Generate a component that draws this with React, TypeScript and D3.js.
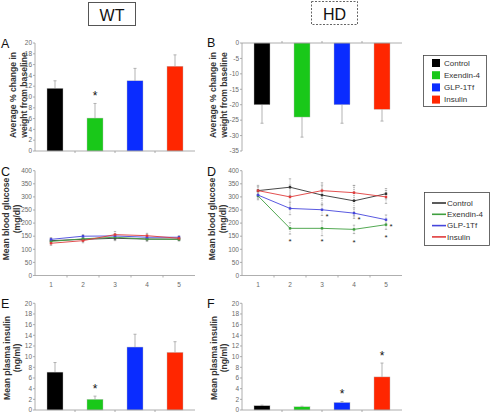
import React from "react";
import * as d3 from "d3";

const FONT = "'Liberation Sans', Arial, sans-serif";

// ---------- data ----------
const groups = ["Control", "Exendin-4", "GLP-1Tf", "Insulin"];
const barColors = ["#000000", "#19c819", "#0a2cff", "#ff2600"];
const lineColors = ["#333333", "#3f9f3f", "#4646dc", "#e03c3c"];

const wtWeightMean = [11.6, 6.1, 13.0, 15.7];
const wtWeightErr = [1.4, 2.7, 2.3, 2.1];
const wtWeightSig = [false, true, false, false];

const hdWeightMean = [-20, -24, -20, -21.5];
const hdWeightErr = [6, 6.5, 6, 3.8];

const wtInsulinMean = [7.1, 2.0, 11.8, 10.8];
const wtInsulinErr = [1.8, 0.6, 2.4, 2.0];
const wtInsulinSig = [false, true, false, false];

const hdInsulinMean = [0.8, 0.6, 1.4, 6.2];
const hdInsulinErr = [0.1, 0.1, 0.2, 2.6];
const hdInsulinSig = [false, false, true, true];

const timepoints = ["1", "2", "3", "4", "5"];

const wtGlucose = [
  [133, 138, 142, 139, 139],
  [130, 140, 146, 139, 138],
  [138, 150, 151, 146, 146],
  [123, 133, 156, 152, 142],
];
const wtGlucoseErr = [
  [8, 8, 9, 8, 6],
  [8, 7, 10, 7, 6],
  [7, 6, 8, 8, 6],
  [8, 8, 12, 9, 6],
];

const hdGlucose = [
  [324, 337, 307, 285, 312],
  [304, 180, 180, 176, 194],
  [307, 256, 251, 238, 213],
  [324, 300, 324, 316, 300],
];
const hdGlucoseErr = [
  [20, 32, 38, 58, 20],
  [15, 22, 28, 16, 18],
  [12, 24, 22, 20, 18],
  [15, 45, 30, 28, 25],
];
const hdExendinSig = [false, true, true, true, true];
const hdGlpSig = [false, false, true, true, true];

const weightTicksWT = d3.range(0, 21, 2);
const weightTicksHD = d3.range(-35, 1, 5);
const glucoseTicks = d3.range(0, 401, 50);
const insulinTicks = d3.range(0, 21, 2);

// ---------- helpers ----------
const AX = "#9a9a9a";
const TICKTXT = "#6a6a6a";

function YAxis({ x, y, ticks }: { x: number; y: any; ticks: number[] }) {
  const [r0, r1] = y.range();
  return (
    <g>
      <line x1={x} x2={x} y1={r0} y2={r1} stroke={AX} strokeWidth={0.8} />
      {ticks.map((t) => (
        <g key={t}>
          <line x1={x - 2} x2={x} y1={y(t)} y2={y(t)} stroke={AX} strokeWidth={0.8} />
          <text x={x - 3} y={y(t)} dy="0.35em" textAnchor="end" fontSize={6.5} fill={TICKTXT} fontFamily={FONT}>
            {t}
          </text>
        </g>
      ))}
    </g>
  );
}

function YLabel({ lines, x, cy, gap = 10.5 }: { lines: string[]; x: number; cy: number; gap?: number }) {
  return (
    <g>
      {lines.map((l, i) => (
        <text
          key={i}
          transform={`translate(${x + i * gap},${cy}) rotate(-90)`}
          textAnchor="middle"
          fontSize={8.6}
          fontWeight="bold"
          fill="#333"
          fontFamily={FONT}
        >
          {l}
        </text>
      ))}
    </g>
  );
}

function Letter({ t, x, y }: { t: string; x: number; y: number }) {
  return (
    <text x={x} y={y} fontSize={12.5} fill="#111" fontFamily={FONT}>
      {t}
    </text>
  );
}

function BarPanel({
  x0, x1, yTop, yBottom, domain, ticks, means, errs, sig, negative,
}: {
  x0: number; x1: number; yTop: number; yBottom: number; domain: [number, number];
  ticks: number[]; means: number[]; errs: number[]; sig?: boolean[]; negative?: boolean;
}) {
  const x = d3.scaleBand<string>().domain(groups).range([x0, x1]).paddingInner(0.6).paddingOuter(0.3);
  const y = d3.scaleLinear().domain(domain).range([yBottom, yTop]);
  const base = y(0);
  const step = x.step();
  const bounds = d3.range(1, groups.length).map((i) => x0 + x.paddingOuter() * step + i * step - step * x.paddingInner() / 2);
  return (
    <g>
      {groups.map((g, i) => {
        const v = means[i];
        const bx = x(g)!;
        const bw = x.bandwidth();
        const cx = bx + bw / 2;
        const top = Math.min(y(v), base);
        const h = Math.abs(y(v) - base);
        const eEnd = negative ? y(v - errs[i]) : y(v + errs[i]);
        return (
          <g key={g}>
            <line x1={cx} x2={cx} y1={y(v)} y2={eEnd} stroke="#aaa" strokeWidth={0.9} />
            <line x1={cx - 1.5} x2={cx + 1.5} y1={eEnd} y2={eEnd} stroke="#aaa" strokeWidth={0.9} />
            <rect x={bx} y={top} width={bw} height={h} fill={barColors[i]} stroke="#bbb" strokeWidth={0.4} />
            {sig && sig[i] && (
              <text x={cx} y={eEnd - 3} textAnchor="middle" fontSize={12} fill="#111" fontFamily={FONT}>
                *
              </text>
            )}
          </g>
        );
      })}
      <line x1={x0} x2={x1} y1={base} y2={base} stroke={AX} strokeWidth={0.8} />
      {bounds.map((b, i) => (
        <line key={i} x1={b} x2={b} y1={base} y2={negative ? base - 2 : base + 2} stroke={AX} strokeWidth={0.8} />
      ))}
      <YAxis x={x0} y={y} ticks={ticks} />
    </g>
  );
}

function LinePanel({
  x0, x1, yTop, yBottom, data, errs, sigEx, sigGlp,
}: {
  x0: number; x1: number; yTop: number; yBottom: number; data: number[][]; errs: number[][];
  sigEx?: boolean[]; sigGlp?: boolean[];
}) {
  const x = d3.scalePoint<string>().domain(timepoints).range([x0, x1]).padding(0.5);
  const y = d3.scaleLinear().domain([0, 400]).range([yBottom, yTop]);
  const step = x.step();
  const line = d3
    .line<number>()
    .x((_, i) => x(timepoints[i])!)
    .y((d) => y(d));
  return (
    <g>
      <line x1={x0} x2={x1} y1={y(0)} y2={y(0)} stroke={AX} strokeWidth={0.8} />
      {timepoints.map((t, i) => (
        <g key={t}>
          {i > 0 && (
            <line x1={x(t)! - step / 2} x2={x(t)! - step / 2} y1={y(0)} y2={y(0) + 2} stroke={AX} strokeWidth={0.8} />
          )}
          <text x={x(t)!} y={y(0) + 11} textAnchor="middle" fontSize={6.5} fill={TICKTXT} fontFamily={FONT}>
            {t}
          </text>
        </g>
      ))}
      {data.map((series, s) =>
        series.map((v, i) => {
          const cx = x(timepoints[i])!;
          return (
            <g key={`e${s}-${i}`}>
              <line x1={cx} x2={cx} y1={y(v - errs[s][i])} y2={y(v + errs[s][i])} stroke="#999" strokeWidth={0.7} strokeDasharray="1.2,0.8" />
              <line x1={cx - 1.2} x2={cx + 1.2} y1={y(v + errs[s][i])} y2={y(v + errs[s][i])} stroke="#999" strokeWidth={0.7} />
              <line x1={cx - 1.2} x2={cx + 1.2} y1={y(v - errs[s][i])} y2={y(v - errs[s][i])} stroke="#999" strokeWidth={0.7} />
            </g>
          );
        })
      )}
      {data.map((series, s) => (
        <g key={`l${s}`}>
          <path d={line(series)!} fill="none" stroke={lineColors[s]} strokeWidth={0.9} />
          {series.map((v, i) => (
            <rect key={i} x={x(timepoints[i])! - 1.2} y={y(v) - 1.2} width={2.4} height={2.4} fill={lineColors[s]} />
          ))}
        </g>
      ))}
      {sigGlp &&
        sigGlp.map((f, i) =>
          f ? (
            <text key={`g${i}`} x={x(timepoints[i])! + 5} y={y(data[2][i] - 18)} dy="0.55em" textAnchor="middle" fontSize={8} fill="#222" fontFamily={FONT}>
              *
            </text>
          ) : null
        )}
      {sigEx &&
        sigEx.map((f, i) =>
          f ? (
            <text key={`x${i}`} x={x(timepoints[i])!} y={y(data[1][i] - 42)} dy="0.55em" textAnchor="middle" fontSize={8} fill="#222" fontFamily={FONT}>
              *
            </text>
          ) : null
        )}
      <YAxis x={x0} y={y} ticks={glucoseTicks} />
    </g>
  );
}

export default function App() {
  return (
    <svg
      width={492}
      height={414}
      style={{ position: "absolute", left: 0, top: 0, background: "#fff" }}
      fontFamily={FONT}
    >
      <rect x={0} y={0} width={492} height={414} fill="#fff" />
      {/* Titles */}
      <rect x={88.5} y={2.5} width={47} height={23} fill="none" stroke="#555" strokeWidth={1} />
      <text x={112} y={20.5} textAnchor="middle" fontSize={16} fill="#111" fontFamily={FONT}>WT</text>
      <rect x={311.5} y={1.5} width={46} height={23} fill="none" stroke="#666" strokeWidth={1} strokeDasharray="2,1.5" />
      <text x={334.5} y={19.5} textAnchor="middle" fontSize={16} fill="#111" fontFamily={FONT}>HD</text>

      {/* Panel A */}
      <Letter t="A" x={1} y={48} />
      <YLabel lines={["Average % change in", "weight from baseline"]} x={16} cy={95} />
      <BarPanel x0={35} x1={195} yTop={43} yBottom={151} domain={[0, 20]} ticks={weightTicksWT}
        means={wtWeightMean} errs={wtWeightErr} sig={wtWeightSig} />

      {/* Panel B */}
      <Letter t="B" x={207} y={47} />
      <YLabel lines={["Average % change in", "weight from baseline"]} x={216} cy={95} />
      <BarPanel x0={242} x1={402} yTop={151} yBottom={43} domain={[0, -35]} ticks={weightTicksHD}
        means={hdWeightMean} errs={hdWeightErr} negative />

      {/* Legend 1 */}
      <rect x={423.5} y={55.5} width={63} height={51} fill="#fff" stroke="#444" strokeWidth={0.8} />
      {groups.map((g, i) => (
        <g key={g}>
          <rect x={432} y={59 + i * 12.2} width={8} height={8} fill={barColors[i]} />
          <text x={444} y={63 + i * 12.2} dy="0.35em" fontSize={8} fill="#333" fontFamily={FONT}>{g}</text>
        </g>
      ))}

      {/* Panel C */}
      <Letter t="C" x={1} y={176} />
      <YLabel lines={["Mean blood glucose", "(mg/dl)"]} x={9} cy={219} />
      <LinePanel x0={35} x1={195} yTop={170.7} yBottom={275.5} data={wtGlucose} errs={wtGlucoseErr} />

      {/* Panel D */}
      <Letter t="D" x={207} y={176} />
      <YLabel lines={["Mean blood glucose", "(mg/dl)"]} x={215} cy={219} />
      <LinePanel x0={242} x1={402} yTop={170.7} yBottom={275.5} data={hdGlucose} errs={hdGlucoseErr}
        sigEx={hdExendinSig} sigGlp={hdGlpSig} />

      {/* Legend 2 */}
      <rect x={424.5} y={192.5} width={65} height={53} fill="#fff" stroke="#444" strokeWidth={0.8} />
      {groups.map((g, i) => (
        <g key={g}>
          <line x1={432} x2={446} y1={203 + i * 11.3} y2={203 + i * 11.3} stroke={lineColors[i]} strokeWidth={1.6} />
          <text x={447} y={203 + i * 11.3} dy="0.35em" fontSize={8} fill="#333" fontFamily={FONT}>{g}</text>
        </g>
      ))}

      {/* Panel E */}
      <Letter t="E" x={1} y={308} />
      <YLabel lines={["Mean plasma insulin", "(ng/ml)"]} x={9.5} cy={358} />
      <BarPanel x0={35} x1={195} yTop={303.3} yBottom={410} domain={[0, 20]} ticks={insulinTicks}
        means={wtInsulinMean} errs={wtInsulinErr} sig={wtInsulinSig} />

      {/* Panel F */}
      <Letter t="F" x={207} y={308} />
      <YLabel lines={["Mean plasma insulin", "(ng/ml)"]} x={216.5} cy={358} />
      <BarPanel x0={242} x1={402} yTop={303.3} yBottom={410} domain={[0, 20]} ticks={insulinTicks}
        means={hdInsulinMean} errs={hdInsulinErr} sig={hdInsulinSig} />
    </svg>
  );
}
